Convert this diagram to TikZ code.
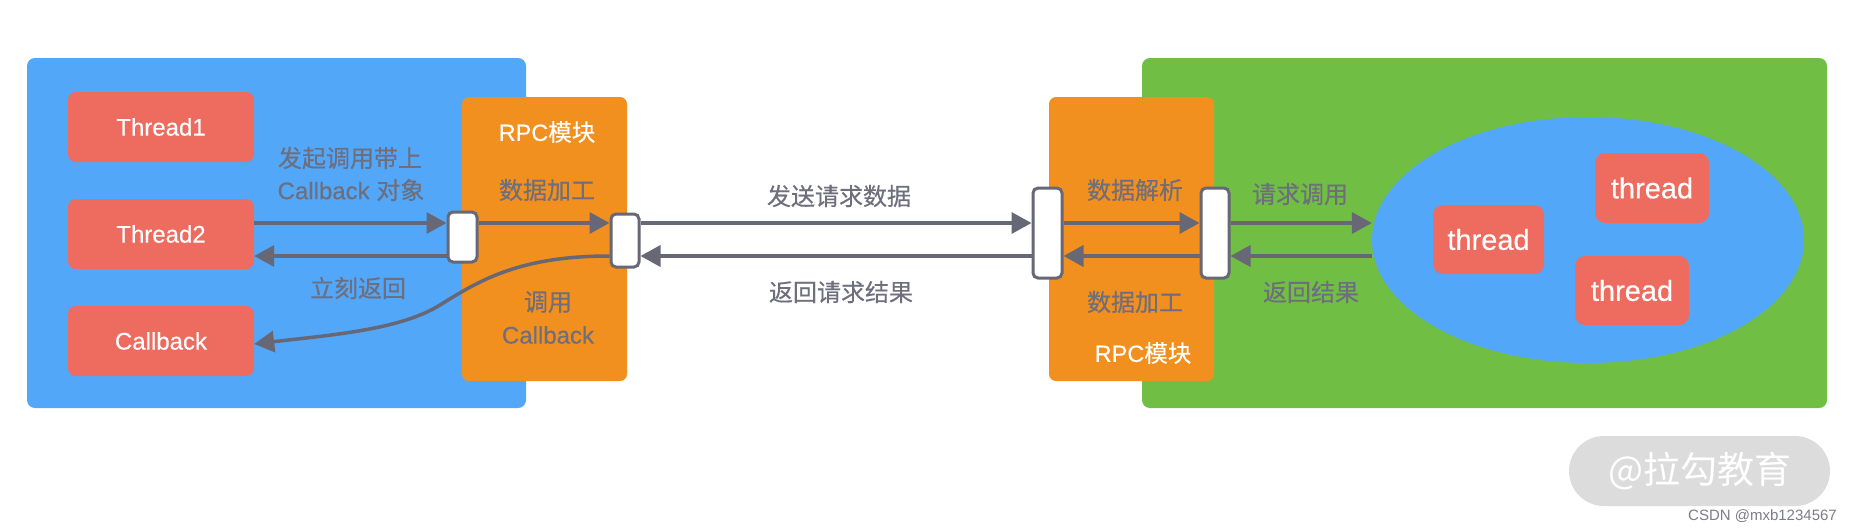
\documentclass[tikz,border=0pt]{standalone}
\usepackage{fontspec}
\setmainfont{Liberation Sans}[FakeBold=0.35]
\newfontfamily\zh{Noto Sans CJK SC}[FakeBold=0.35]
\newfontfamily\zhthin{Noto Sans CJK SC}
\newfontfamily\plain{Liberation Sans}
\usetikzlibrary{arrows.meta,shapes.geometric}
\definecolor{pblue}{HTML}{52A7F8}
\definecolor{tred}{HTML}{EE6C5F}
\definecolor{porange}{HTML}{F1901E}
\definecolor{pgreen}{HTML}{70BF44}
\definecolor{agray}{HTML}{676776}
\definecolor{lgray}{HTML}{6E6E7C}
\definecolor{wgray}{HTML}{DCDCDC}
\begin{document}
\begin{tikzpicture}[x=1pt,y=-1pt,
  tbox/.style={fill=tred, rounded corners=8pt, minimum width=186pt, minimum height=70pt, inner sep=0pt, text=white, font=\fontsize{24}{28}\selectfont},
  pbox/.style={fill=tred, rounded corners=10pt, minimum width=114pt, minimum height=70pt, inner sep=0pt, text=white, font=\fontsize{29}{32}\selectfont},
  handle/.style={draw=agray, line width=3pt, fill=white, rounded corners=5pt, inner sep=0pt},
  lbl/.style={text=lgray, font=\fontsize{24}{28}\selectfont, inner sep=0pt},
  wlbl/.style={text=white, font=\fontsize{23.5}{28}\selectfont, inner sep=0pt},
  conn/.style={draw=agray, line width=3.5pt, -{Triangle[length=20pt,width=21pt]}}
]
\useasboundingbox (0,0) rectangle (1855,531);
\coordinate (yf) at (0,223);
\coordinate (yb) at (0,256);
\coordinate (yc) at (0,344);
% left side
\fill[pblue, rounded corners=8pt] (27,58) rectangle (526,408);
\node[tbox] (t1) at (161,127) {Thread1};
\node[tbox] (t2) at (161,234) {Thread2};
\node[tbox] (cb) at (161,341) {Callback};
\fill[porange, rounded corners=7pt] (462,97) rectangle (627,381);
\node[wlbl] (rpcL) at (547,132) {RPC{\zh 模块}};
\node[lbl] (procL) at (547,190) {\zh 数据加工};
\node[lbl] (callL1) at (548,302) {\zh 调用};
\node[lbl] (callL2) at (548,335) {Callback};
\node[lbl] (l1a) at (350,158) {\zh 发起调用带上};
\node[lbl] (l1b) at (351,190) {Callback {\zh 对象}};
\node[lbl] (l2) at (358,288) {\zh 立刻返回};
\node[handle, minimum width=29pt, minimum height=50pt] (h1) at (462.5,237) {};
\node[handle, minimum width=28pt, minimum height=53pt] (h2) at (625,240.5) {};
% right side
\fill[pgreen, rounded corners=8pt] (1142,58) rectangle (1827,408);
\fill[porange, rounded corners=7pt] (1049,97) rectangle (1214,381);
\node[lbl] (parseR) at (1135,190) {\zh 数据解析};
\node[lbl] (procR) at (1135,302) {\zh 数据加工};
\node[wlbl] (rpcR) at (1143,353) {RPC{\zh 模块}};
\node[handle, minimum width=29pt, minimum height=90pt] (h3) at (1047.5,233) {};
\node[handle, minimum width=28pt, minimum height=90pt] (h4) at (1215,233) {};
\node[ellipse, fill=pblue, minimum width=432pt, minimum height=246pt, inner sep=0pt] (pool) at (1588,240) {};
\node[pbox, minimum width=111pt, minimum height=69pt] (pa) at (1488.5,239.5) {thread};
\node[pbox] (pb) at (1652,188) {thread};
\node[pbox, minimum height=69pt] (pc) at (1632,290.5) {thread};
\node[lbl] (reqcall) at (1300,194) {\zh 请求调用};
\node[lbl] (retres) at (1311,292) {\zh 返回结果};
% middle labels
\node[lbl] (send) at (839,196) {\zh 发送请求数据};
\node[lbl] (ret) at (841,292) {\zh 返回请求结果};
% connectors
\draw[conn] (t2.east |- yf) -- (h1.west |- yf);
\draw[conn] (h1.west |- yb) -- (t2.east |- yb);
\draw[conn] (h1.east |- yf) -- (h2.west |- yf);
\draw[conn] (h2.east |- yf) -- (h3.west |- yf);
\draw[conn] (h3.west |- yb) -- (h2.east |- yb);
\draw[conn] (h3.east |- yf) -- (h4.west |- yf);
\draw[conn] (h4.west |- yb) -- (h3.east |- yb);
\draw[conn] (h4.east |- yf) -- (pool.west |- yf);
\draw[conn] (pool.west |- yb) -- (h4.east |- yb);
\draw[conn] (h2.west |- yb) .. controls (520,256) and (480,280) .. (440,305)
  .. controls (400,330) and (330,335) .. (cb.east |- yc);
% watermark
\node[fill=wgray, rounded corners=35pt, minimum width=261pt, minimum height=70pt, inner sep=0pt, text=white, font=\zhthin\fontsize{37}{40}\selectfont] (wm) at (1699.5,471) {@拉勾教育};
\node[anchor=east, text=lgray!90!white, font=\plain\fontsize{15}{18}\selectfont, inner sep=0pt] (csdn) at (1837,516) {CSDN @mxb1234567};
\end{tikzpicture}
\end{document}
